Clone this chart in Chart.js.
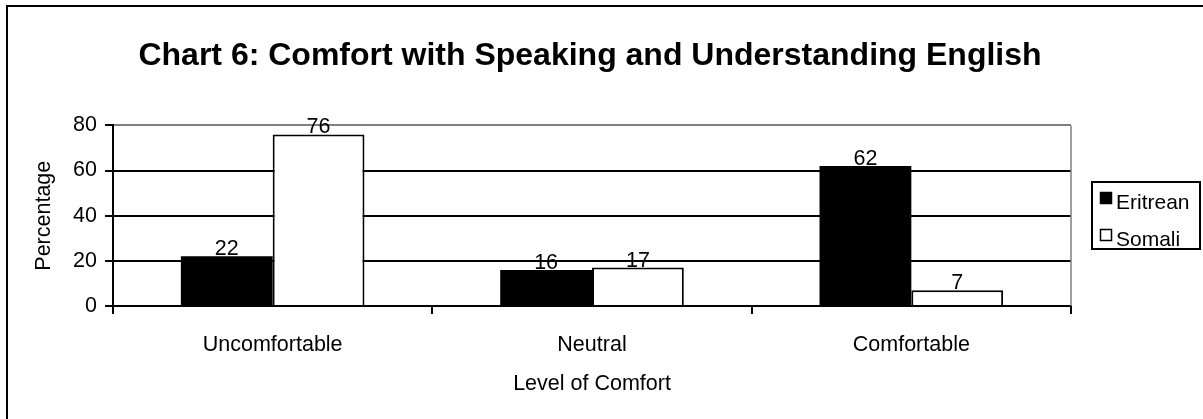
<!DOCTYPE html>
<html>
<head>
<meta charset="utf-8">
<title>Chart 6</title>
<script src="https://cdn.jsdelivr.net/npm/chart.js@4"></script>
<style>
    body { margin: 0; background: #fff; }
    #wrap { width: 1203px; height: 419px; }
</style>
</head>
<body>
<div id="wrap"><canvas id="chart" width="1203" height="419"></canvas></div>
<script>
const categories = ['Uncomfortable', 'Neutral', 'Comfortable'];
const eritrean = [22, 16, 62];
const somali = [76, 17, 7];
const yTicks = [0, 20, 40, 60, 80];

const FONT = "'Liberation Sans', Arial, sans-serif";
const TXT = 21.5;

// frame (only top and left edges are visible in the original)
const framePlugin = {
    id: 'frame',
    beforeDraw(chart) {
        const ctx = chart.ctx;
        ctx.save();
        ctx.fillStyle = '#000';
        ctx.fillRect(6, 5, chart.width - 6, 2);
        ctx.fillRect(6, 5, 2, chart.height - 5);
        ctx.restore();
    }
};

// right edge of plot area + value labels above bars
const labelPlugin = {
    id: 'barLabels',
    afterDatasetsDraw(chart) {
        const ctx = chart.ctx;
        const area = chart.chartArea;
        ctx.save();
        ctx.strokeStyle = '#808080';
        ctx.lineWidth = 1.5;
        ctx.beginPath();
        ctx.moveTo(area.right, area.top);
        ctx.lineTo(area.right, area.bottom);
        ctx.stroke();

        ctx.fillStyle = '#000';
        ctx.font = TXT + 'px ' + FONT;
        ctx.textAlign = 'center';
        ctx.textBaseline = 'alphabetic';
        chart.data.datasets.forEach((ds, i) => {
            chart.getDatasetMeta(i).data.forEach((bar, j) => {
                ctx.fillText(ds.data[j], bar.x, bar.y - 1);
            });
        });
        ctx.restore();
    }
};

// boxed legend on the right
const legendPlugin = {
    id: 'boxLegend',
    afterDraw(chart) {
        const ctx = chart.ctx;
        ctx.save();
        ctx.strokeStyle = '#000';
        ctx.lineWidth = 2;
        ctx.strokeRect(1092, 182, 108, 67);
        ctx.font = '21px ' + FONT;
        ctx.textAlign = 'left';
        ctx.textBaseline = 'alphabetic';
        chart.data.datasets.forEach((ds, i) => {
            const top = 192 + i * 37;
            ctx.fillStyle = ds.backgroundColor;
            ctx.fillRect(1100, top, 12, 12);
            ctx.lineWidth = 1.5;
            ctx.strokeRect(1100.5, top + 0.5, 11, 11);
            ctx.fillStyle = '#000';
            ctx.fillText(ds.label, 1116, top + 17);
        });
        ctx.restore();
    }
};

new Chart(document.getElementById('chart'), {
    type: 'bar',
    data: {
        labels: categories,
        datasets: [
            {
                label: 'Eritrean',
                data: eritrean,
                backgroundColor: '#000',
                borderColor: '#000',
                borderWidth: 0
            },
            {
                label: 'Somali',
                data: somali,
                backgroundColor: '#fff',
                borderColor: '#000',
                borderWidth: 2
            }
        ]
    },
    options: {
        responsive: false,
        animation: false,
        categoryPercentage: 0.575,
        barPercentage: 1,
        layout: { padding: { left: 0, right: 23, top: 0, bottom: 0 } },
        plugins: {
            legend: { display: false },
            tooltip: { enabled: false },
            title: {
                display: true,
                text: 'Chart 6: Comfort with Speaking and Understanding English',
                color: '#000',
                font: { family: FONT, size: 32, weight: 'bold', lineHeight: 1.2 },
                padding: { top: 37, bottom: 50 }
            }
        },
        scales: {
            x: {
                grid: {
                    drawOnChartArea: false,
                    drawTicks: true,
                    tickLength: 8,
                    color: '#000',
                    lineWidth: 2
                },
                border: { color: '#000', width: 2 },
                ticks: {
                    color: '#000',
                    padding: 18,
                    font: { family: FONT, size: TXT }
                },
                title: {
                    display: true,
                    text: 'Level of Comfort',
                    color: '#000',
                    font: { family: FONT, size: TXT },
                    padding: { top: 0, bottom: 22 }
                },
                afterFit(scale) { scale.height = 113; }
            },
            y: {
                min: 0,
                max: 80,
                afterBuildTicks(scale) { scale.ticks = yTicks.map(v => ({ value: v })); },
                grid: {
                    color: c => (c.tick && c.tick.value === 80 ? '#808080' : '#000'),
                    tickColor: '#000',
                    tickLength: 8,
                    lineWidth: 2
                },
                border: { color: '#000', width: 2 },
                ticks: {
                    color: '#000',
                    padding: 8,
                    font: { family: FONT, size: TXT }
                },
                title: {
                    display: true,
                    text: 'Percentage',
                    color: '#000',
                    font: { family: FONT, size: TXT },
                    padding: { top: 31, bottom: 0 }
                },
                afterFit(scale) { scale.width = 113; }
            },
            y2: {
                position: 'right',
                display: true,
                grid: { display: false },
                border: { display: false },
                ticks: { display: false },
                afterFit(scale) { scale.width = 109; }
            }
        }
    },
    plugins: [framePlugin, labelPlugin, legendPlugin]
});
</script>
</body>
</html>
